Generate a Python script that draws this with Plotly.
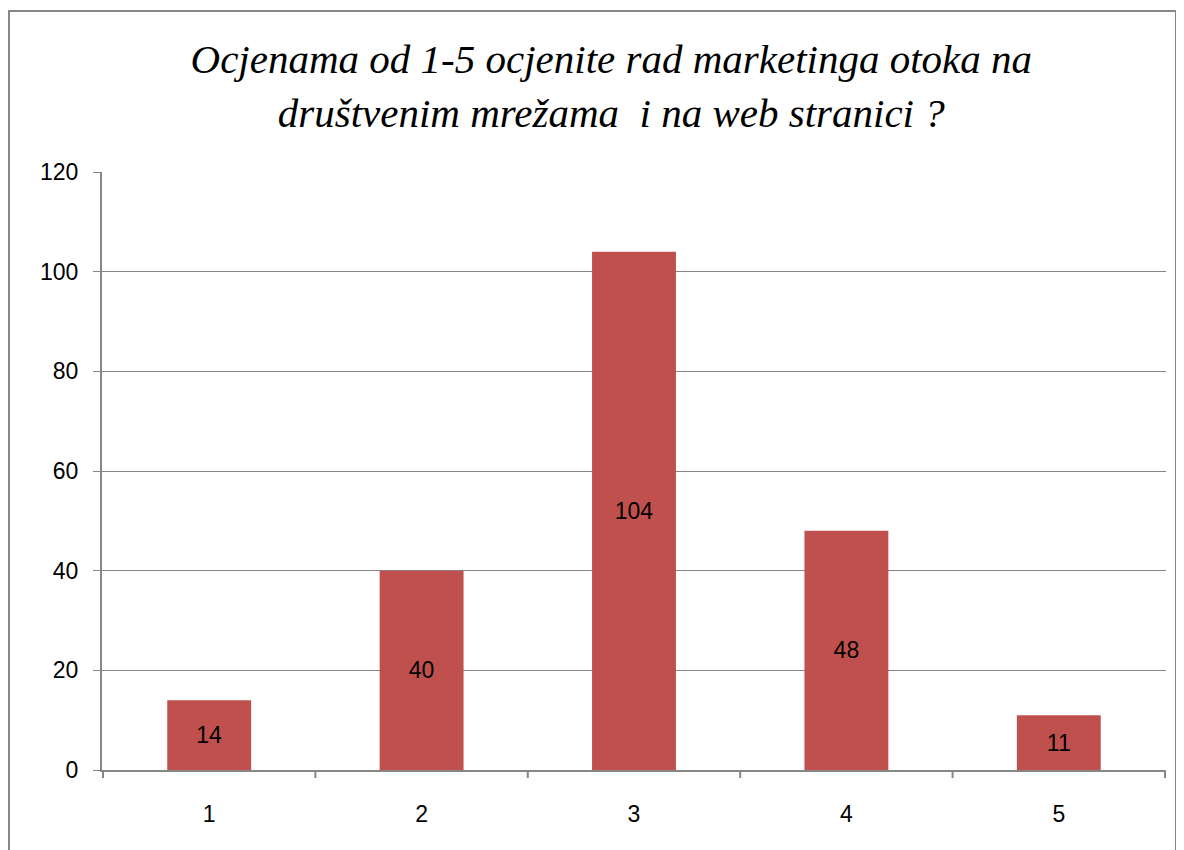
import plotly.graph_objects as go

categories = ["1", "2", "3", "4", "5"]
values = [14, 40, 104, 48, 11]
y_ticks = [0, 20, 40, 60, 80, 100, 120]
title_lines = ["Ocjenama od 1-5 ocjenite rad marketinga otoka na",
               "društvenim mrežama\u00a0 i na web stranici ?"]

W, H = 1176, 842
L, R, T, B = 94, 18, 164, 80

fig = go.Figure()
fig.add_trace(go.Bar(
    x=categories, y=values,
    marker=dict(color="#C0504D", line=dict(width=0)),
    text=[str(v) for v in values],
    textposition="inside", insidetextanchor="middle",
    textfont=dict(family="Liberation Sans, Arial, sans-serif", size=23, color="#000000"),
    hoverinfo="skip",
))

fig.update_layout(
    width=W, height=H,
    margin=dict(l=L, r=R, t=T, b=B, pad=0),
    paper_bgcolor="white", plot_bgcolor="white",
    bargap=0.605,
    showlegend=False,
    font=dict(family="Liberation Sans, Arial, sans-serif", size=23, color="#000000"),
    title=dict(
        text="<br>".join(title_lines),
        x=0.513, xanchor="center", y=0.9225, yanchor="top",
        font=dict(family="Liberation Serif, serif", size=41, color="#000000", style="italic"),
    ),
    xaxis=dict(
        showgrid=False, showline=True, linecolor="#868686", linewidth=2,
        ticks="", tickfont=dict(size=23), ticklabelstandoff=22,
        fixedrange=True,
    ),
    yaxis=dict(
        range=[0, 120], tickvals=y_ticks, showgrid=True, gridcolor="#868686", gridwidth=1,
        showline=True, linecolor="#868686", linewidth=2,
        ticks="outside", ticklen=7, tickcolor="#868686", tickwidth=1,
        tickfont=dict(size=23), ticklabelstandoff=10,
        zeroline=False, fixedrange=True,
    ),
)

pw, ph = W - L - R, H - T - B
# x-axis tick marks between categories
for i in range(len(categories) + 1):
    fig.add_shape(type="line", xref="x", yref="paper",
                  x0=i - 0.5, x1=i - 0.5, y0=0, y1=-8 / ph,
                  line=dict(color="#868686", width=2))

# chart frame
fig.add_shape(type="rect", xref="paper", yref="paper",
              x0=(1 - L) / pw, x1=(1168 - L) / pw,
              y0=(H - B - 870) / ph, y1=(H - B - 3) / ph,
              line=dict(color="#868686", width=2), fillcolor="rgba(0,0,0,0)", layer="below")

fig.write_html("out.html")
